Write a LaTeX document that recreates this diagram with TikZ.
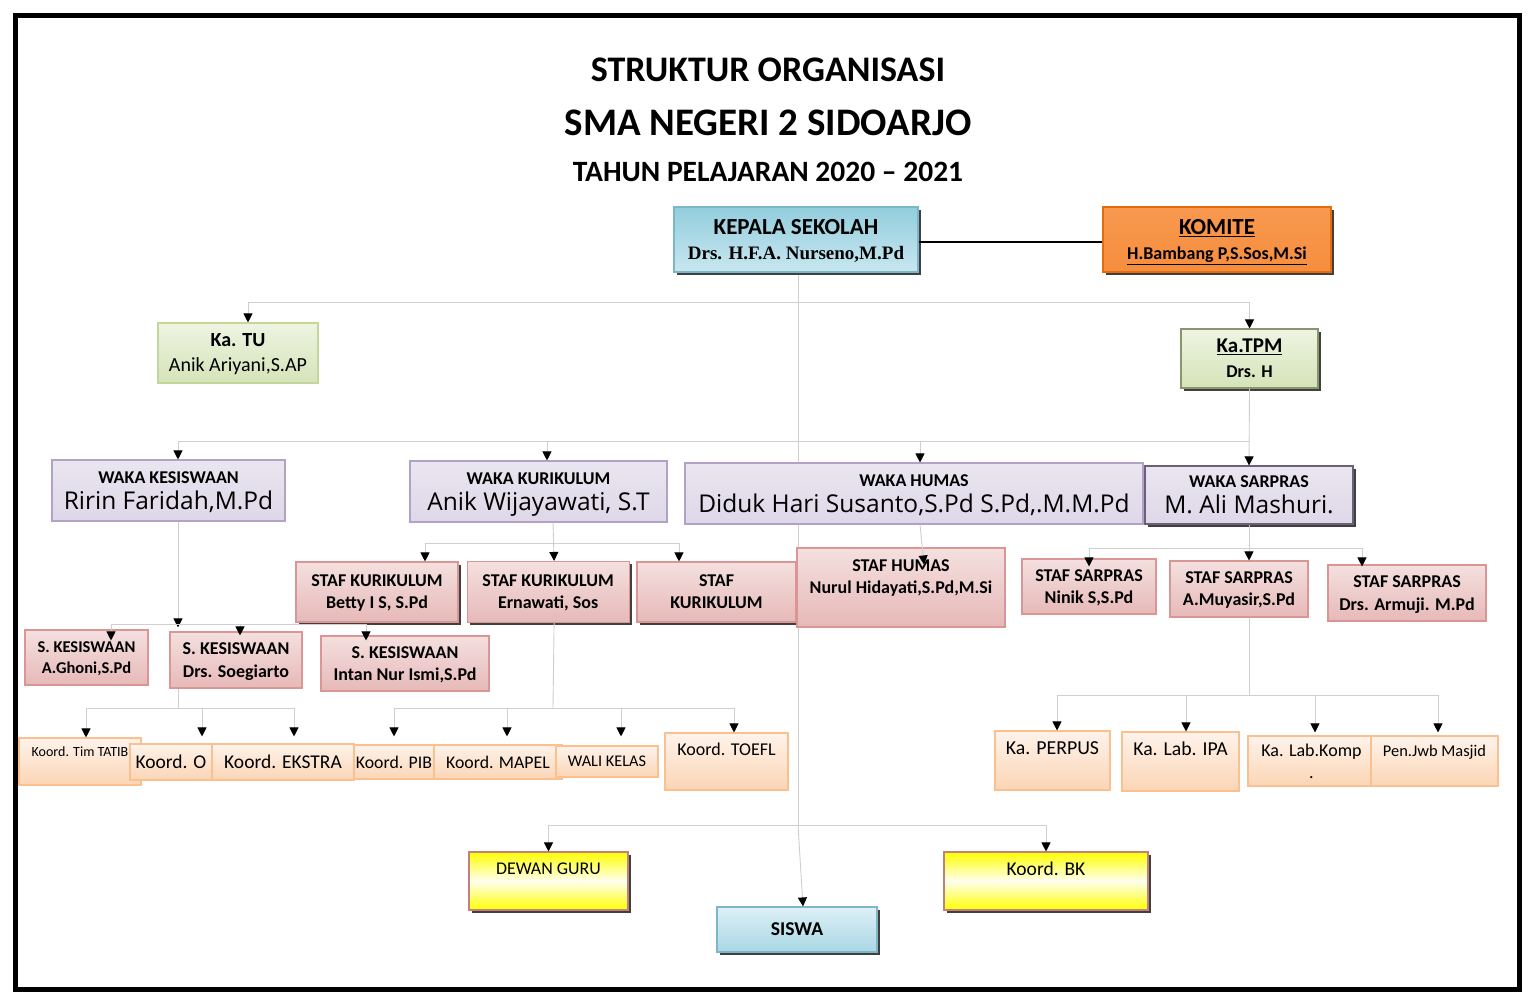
\documentclass[tikz,border=0pt]{standalone}
\usepackage{fontspec}
\setmainfont{Carlito}
\newfontfamily\namefont{Open Sans}
\newfontfamily\serfont{Liberation Serif}
\usetikzlibrary{arrows.meta,positioning,shadows,backgrounds}

\definecolor{kepTop}{HTML}{93CDDD}
\definecolor{kepBot}{HTML}{C8E7F0}
\definecolor{kepLine}{HTML}{7DB6C8}
\definecolor{komTop}{HTML}{F8994F}
\definecolor{komBot}{HTML}{F68D3E}
\definecolor{komLine}{HTML}{E46C0A}
\definecolor{grnTop}{HTML}{EEF4E2}
\definecolor{grnBot}{HTML}{D5E3B8}
\definecolor{grnLine}{HTML}{C3D69B}
\definecolor{wakTop}{HTML}{EAE6F0}
\definecolor{wakBot}{HTML}{DED7E8}
\definecolor{wakLine}{HTML}{B3A2C7}
\definecolor{stfTop}{HTML}{F4E0DF}
\definecolor{stfBot}{HTML}{E6B9B8}
\definecolor{stfLine}{HTML}{D99694}
\definecolor{kooTop}{HTML}{FEF3EB}
\definecolor{kooBot}{HTML}{FBD5B5}
\definecolor{kooLine}{HTML}{FAC090}
\definecolor{ylwLine}{HTML}{C0807D}
\definecolor{sisTop}{HTML}{DDF0F6}
\definecolor{sisBot}{HTML}{A9D7E4}
\definecolor{linkGray}{HTML}{CFCFCF}

\newcommand{\tbold}[2]{{\fontsize{#1}{#1}\selectfont\bfseries #2}}
\newcommand{\tplain}[2]{{\fontsize{#1}{#1}\selectfont #2}}
\newcommand{\tname}[2]{{\namefont\fontsize{#1}{#1}\selectfont #2}}
\newcommand{\tser}[2]{{\serfont\fontsize{#1}{#1}\selectfont\bfseries #2}}
\newcommand{\lsp}[1]{\fontsize{12}{#1}\selectfont}

\begin{document}
\begin{tikzpicture}[x=1pt, y=-1pt,
    box/.style={rectangle, inner sep=0pt, align=center, line width=1.1, text depth=0pt},
    dims/.style 2 args={minimum width=#1, minimum height=#2},
    shade3d/.style={drop shadow={shadow xshift=2.5pt, shadow yshift=-2.5pt, fill=black!75, opacity=1}},
    kepbox/.style={box, draw=kepLine, top color=kepTop, bottom color=kepBot},
    komitebox/.style={box, draw=komLine, top color=komTop, bottom color=komBot},
    greenbox/.style={box, draw=grnLine, top color=grnTop, bottom color=grnBot},
    wakabox/.style={box, draw=wakLine, top color=wakTop, bottom color=wakBot},
    stafbox/.style={box, draw=stfLine, top color=stfTop, bottom color=stfBot},
    koordbox/.style={box, draw=kooLine, top color=kooTop, bottom color=kooBot},
    yellowbox/.style={box, draw=ylwLine, top color=yellow, bottom color=yellow, middle color=yellow!6},
    siswabox/.style={box, draw=kepLine, top color=sisTop, bottom color=sisBot},
    link/.style={draw=linkGray, line width=0.9},
    arrow/.style={link, -{Triangle[width=9pt, length=9pt, color=black]}}
  ]
  \useasboundingbox (0,0) rectangle (1536,1004);

  % Title
  \node (title1) at (768,70) {\tbold{36}{STRUKTUR ORGANISASI}};
  \node (title2) at (768,123) {\tbold{39}{SMA NEGERI 2 SIDOARJO}};
  \node (title3) at (768,172) {\tbold{29.5}{TAHUN PELAJARAN 2020 -- 2021}};

  % Pimpinan
  \node[kepbox, shade3d, dims={244}{65}, font=\lsp{25}] (kepala) at (796,239.5)
    {\tbold{23}{KEPALA SEKOLAH}\\\tser{19}{Drs. H.F.A. Nurseno,M.Pd}};
  \node[komitebox, shade3d, dims={228}{65}, font=\lsp{25}] (komite) at (1217,239.5)
    {\tbold{23}{\underline{KOMITE}}\\\tbold{18}{\underline{H.Bambang P,S.Sos,M.Si}}};
  \node[greenbox, dims={160}{60}, font=\lsp{25}] (katu) at (238,353)
    {\tbold{20}{Ka. TU}\\\tplain{20}{Anik Ariyani,S.AP}};
  \node[greenbox, draw=grnLine!70!black, shade3d, dims={137}{59}, font=\lsp{25}] (katpm) at (1249.5,358.5)
    {\tbold{21}{\underline{Ka.TPM}}\\\tbold{18}{Drs. H}};

  % Waka
  \node[wakabox, dims={233}{61}, font=\lsp{26}] (wkesis) at (168.5,490.5)
    {\tbold{18}{WAKA KESISWAAN}\\\tname{24.5}{Ririn Faridah,M.Pd}};
  \node[wakabox, dims={257}{61}, font=\lsp{26}] (wkurik) at (538.5,491.5)
    {\tbold{18}{WAKA KURIKULUM}\\\tname{24.5}{Anik Wijayawati, S.T}};
  \node[wakabox, dims={458}{61}, font=\lsp{26}] (whumas) at (914,493.5)
    {\tbold{18}{WAKA HUMAS}\\\tname{24.5}{Diduk Hari Susanto,S.Pd S.Pd,.M.M.Pd}};
  \node[wakabox, draw=wakLine!60!black, shade3d, dims={208}{58}, font=\lsp{26}] (wsarpras) at (1249,495)
    {\tbold{18}{WAKA SARPRAS}\\\tname{24.5}{M. Ali Mashuri.}};

  % Staf
  \node[stafbox, shade3d, dims={162}{60}, font=\lsp{22}] (betty) at (377,592)
    {\tbold{18}{STAF KURIKULUM}\\\tbold{18}{Betty I S, S.Pd}};
  \node[stafbox, shade3d, dims={162}{61}, font=\lsp{22}, right=8pt of betty] (ernawati)
    {\tbold{18}{STAF KURIKULUM}\\\tbold{18}{Ernawati, Sos}};
  \node[stafbox, shade3d, dims={159}{60}, font=\lsp{22}] (stafkur) at (716.5,592)
    {\tbold{18}{STAF}\\\tbold{18}{KURIKULUM}};
  \node[stafbox, dims={208}{79}, font=\lsp{22}] (shumas) at (901,587.5)
    {\tbold{18}{STAF HUMAS}\\\tbold{18}{Nurul Hidayati,S.Pd,M.Si}\\\mbox{}};
  \node[stafbox, dims={134}{55}, font=\lsp{22}] (ninik) at (1089,586.5)
    {\tbold{18}{STAF SARPRAS}\\\tbold{18}{Ninik S,S.Pd}};
  \node[stafbox, dims={138}{56}, font=\lsp{22}] (muyasir) at (1239,589)
    {\tbold{18}{STAF SARPRAS}\\\tbold{18}{A.Muyasir,S.Pd}};
  \node[stafbox, dims={158}{56}, font=\lsp{23}] (armuji) at (1407,593)
    {\tbold{18}{STAF SARPRAS}\\\tbold{18}{Drs. Armuji. M.Pd}};

  % Staf kesiswaan
  \node[stafbox, dims={123}{55}, font=\lsp{21}] (ghoni) at (86.5,657.5)
    {\tbold{16.5}{S. KESISWAAN}\\\tbold{16.5}{A.Ghoni,S.Pd}};
  \node[stafbox, dims={132}{56}, font=\lsp{23}] (soegiarto) at (236,660)
    {\tbold{18}{S. KESISWAAN}\\\tbold{18}{Drs. Soegiarto}};
  \node[stafbox, dims={168}{55}, font=\lsp{22}] (intan) at (405,663.5)
    {\tbold{18}{S. KESISWAAN}\\\tbold{18}{Intan Nur Ismi,S.Pd}};

  % Koordinator
  \node[koordbox, dims={122}{47}, font=\lsp{20}] (tatib) at (80,761.5)
    {\tplain{14}{Koord. Tim TATIB}\\\mbox{}};
  \node[koordbox, dims={82}{36}] (koordo) at (171,762) {\tplain{19.5}{Koord. O}};
  \node[koordbox, dims={80}{34}] (pib) at (394,762) {\tplain{17.8}{Koord. PIB}};
  \node[koordbox, dims={142}{36}] (ekstra) at (283,762) {\tplain{19.5}{Koord. EKSTRA}};
  \node[koordbox, dims={128}{34}] (mapel) at (498,762) {\tplain{17.8}{Koord. MAPEL}};
  \node[koordbox, dims={102}{31}] (wali) at (607,761.5) {\tplain{16.3}{WALI KELAS}};
  \node[koordbox, dims={123}{57}, font=\lsp{24}] (toefl) at (726.5,761.5)
    {\tplain{18}{Koord. TOEFL}\\\mbox{}};

  \node[koordbox, dims={115}{59}, font=\lsp{24}] (perpus) at (1052.5,760.5)
    {\tplain{19.8}{Ka. PERPUS}\\\mbox{}};
  \node[koordbox, dims={117}{59}, font=\lsp{25}] (ipa) at (1180.5,761.5)
    {\tplain{19.7}{Ka. Lab. IPA}\\\mbox{}};
  \node[koordbox, dims={127}{50}, font=\lsp{22}] (komp) at (1311.5,761)
    {\tplain{18}{Ka. Lab.Komp}\\\tplain{18}{.}};
  \node[koordbox, dims={127}{50}, font=\lsp{21}] (masjid) at (1434.5,761)
    {\tplain{16.4}{Pen.Jwb Masjid}\\\mbox{}};

  % Bawah
  \node[yellowbox, shade3d, dims={159}{58}, font=\lsp{25}] (dewan) at (548.5,881)
    {\tplain{17.9}{DEWAN GURU}\\\mbox{}};
  \node[yellowbox, shade3d, dims={204}{58}, font=\lsp{24}] (bk) at (1046,881)
    {\tplain{19.5}{Koord. BK}\\\mbox{}};
  \node[siswabox, shade3d, dims={160}{45}] (siswa) at (797,929.5) {\tbold{19.6}{SISWA}};

  % Junctions
  \coordinate (jtop) at (798,302);
  \coordinate (jwaka) at (1249,441);
  \coordinate (jkes) at (178,624);
  \coordinate (jkur) at (553,543);
  \coordinate (jsar) at (1249,548);
  \coordinate (jkl) at (178,708);
  \coordinate (jkr) at (553,708);
  \coordinate (jka) at (1249,695);
  \coordinate (jbot) at (798,825);

  \begin{scope}[on background layer]
    \fill[white] (0,0) rectangle (1536,1004);
    \draw[link] ([xshift=2]kepala.south) -- (jbot);
    \draw[arrow] (jbot) -- ([xshift=6]siswa.north);
  \end{scope}

  % Connectors
  \draw[line width=2] ([yshift=-2.5]kepala.east) -- ([yshift=-2.5]komite.west);
  \draw[arrow] (jtop) -| ([xshift=10]katu.north);
  \draw[arrow] (jtop) -| (katpm.north);
  \draw[arrow] (katpm.south) -- (wsarpras.north);
  \draw[arrow] (jwaka) -| ([xshift=9.5]wkesis.north);
  \draw[arrow] (jwaka) -| ([xshift=8.5]wkurik.north);
  \draw[arrow] (jwaka) -| ([xshift=6]whumas.north);

  \draw[arrow] ([xshift=14.5]wkurik.south) -- ([xshift=6]ernawati.north);
  \draw[arrow] (jkur) -| ([xshift=48]betty.north);
  \draw[arrow] (jkur) -| ([xshift=-37.5]stafkur.north);
  \draw[arrow] ([xshift=6]whumas.south) -- ([xshift=23,yshift=-17]shumas.north);
  \draw[arrow] (wsarpras.south) -- ([xshift=10]muyasir.north);
  \draw[arrow] (jsar) -| ([yshift=-8]ninik.north);
  \draw[arrow] (jsar) -| ([xshift=-45,yshift=-2]armuji.north);

  \draw[arrow] ([xshift=9.5]wkesis.south) -- ([xshift=-58,yshift=4]soegiarto.north);
  \draw[arrow] (jkes) -| ([xshift=24.5,yshift=-11]ghoni.north);
  \draw[arrow] (jkes) -| ([xshift=4,yshift=-4]soegiarto.north);
  \draw[arrow] (jkes) -| ([xshift=-39,yshift=-5]intan.north);

  \draw[link] ([xshift=-58]soegiarto.south) -- (jkl);
  \draw[arrow] (jkl) -| ([xshift=6]tatib.north);
  \draw[arrow] (jkl) -| ([xshift=31,yshift=7]koordo.north);
  \draw[arrow] (jkl) -| ([xshift=11,yshift=7]ekstra.north);
  \draw[link] ([xshift=6]ernawati.south) -- (jkr);
  \draw[arrow] (jkr) -| ([yshift=8]pib.north);
  \draw[arrow] (jkr) -| ([xshift=9,yshift=8]mapel.north);
  \draw[arrow] (jkr) -| ([xshift=14,yshift=9]wali.north);
  \draw[arrow] (jkr) -| ([xshift=7.5]toefl.north);

  \draw[link] ([xshift=10]muyasir.south) -- (jka);
  \draw[arrow] (jka) -| ([xshift=4.5]perpus.north);
  \draw[arrow] (jka) -| ([xshift=5.5]ipa.north);
  \draw[arrow] (jka) -| ([xshift=3.5,yshift=3]komp.north);
  \draw[arrow] (jka) -| ([xshift=3.5,yshift=3]masjid.north);

  \draw[arrow] (jbot) -| (dewan.north);
  \draw[arrow] (jbot) -| (bk.north);

  % Frame
  \draw[line width=5] (15.5,15.5) rectangle (1519.5,989.5);
\end{tikzpicture}
\end{document}
